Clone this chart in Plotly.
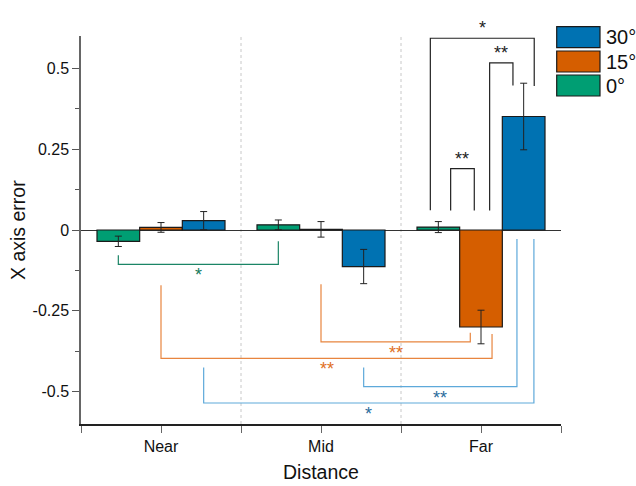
import plotly.graph_objects as go

# ---------------- data ----------------
categories = ["Near", "Mid", "Far"]
cat_pos = [0, 1, 2]
series_names = ["0°", "15°", "30°"]
series_colors = ["#009E73", "#D55E00", "#0072B2"]

vals_0 = [-0.035, 0.016, 0.009]
err_0 = [0.016, 0.015, 0.017]
vals_15 = [0.008, 0.002, -0.300]
err_15 = [0.015, 0.024, 0.052]
vals_30 = [0.029, -0.113, 0.351]
err_30 = [0.028, 0.053, 0.103]

y_tickvals = [0.5, 0.25, 0, -0.25, -0.5]
y_ticktext = ["0.5", "0.25", "0", "-0.25", "-0.5"]

# significance brackets: (group1, series1, shift1, group2, series2, shift2,
#                         level, leg1_end, leg2_end, label, kind)
brackets = [
    (2, 0, 0.077, 2, 1, -0.042, 0.190, 0.060, 0.060, "**", "black"),
    (2, 1, 0.054, 2, 2, -0.067, 0.517, 0.060, 0.447, "**", "black"),
    (2, 0, -0.050, 2, 2, 0.066, 0.593, 0.061, 0.445, "*", "black"),
    (0, 0, 0.0, 1, 0, 0.0, -0.1065, -0.078, -0.035, "*", "green"),
    (0, 1, 0.0, 2, 1, 0.069, -0.397, -0.171, -0.322, "**", "orange"),
    (1, 1, 0.0, 2, 1, -0.067, -0.346, -0.168, -0.318, "**", "orange"),
    (1, 2, 0.0, 2, 2, -0.042, -0.4845, -0.4255, -0.028, "**", "blue"),
    (0, 2, 0.0, 2, 2, 0.064, -0.535, -0.4255, -0.028, "*", "blue"),
]
bracket_line = {"black": "#222222", "green": "#1B8566", "orange": "#E8853F", "blue": "#5EA9DA"}
bracket_text = {"black": "#222222", "green": "#167A5C", "orange": "#E0701E", "blue": "#2C6C9C"}

FONT = "Arial, Liberation Sans, sans-serif"
bar_w = 0.8 / 3


def center(g, s):
    return cat_pos[g] + (s - 1) * bar_w


fig = go.Figure()
for name, vals, errs, col in zip(series_names, [vals_0, vals_15, vals_30],
                                 [err_0, err_15, err_30], series_colors):
    fig.add_trace(go.Bar(
        x=cat_pos, y=vals, name=name,
        marker=dict(color=col, line=dict(color="#1a1a1a", width=1.2)),
        error_y=dict(type="data", array=errs, color="#222222", thickness=1, width=3.5),
        showlegend=False,
    ))

shapes = []
annotations = []

# dotted separators between categories
for xb in [0.5, 1.5]:
    shapes.append(dict(type="line", xref="x", yref="y", x0=xb, x1=xb, y0=-0.6, y1=0.6,
                       line=dict(color="#c8c8c8", width=1, dash="dot"), layer="below"))

for (g1, s1, d1, g2, s2, d2, lvl, e1, e2, lab, kind) in brackets:
    xa = center(g1, s1) + d1
    xb = center(g2, s2) + d2
    path = f"M {xa},{e1} L {xa},{lvl} L {xb},{lvl} L {xb},{e2}"
    shapes.append(dict(type="path", xref="x", yref="y", path=path,
                       line=dict(color=bracket_line[kind], width=1.2)))
    above = lvl > 0
    annotations.append(dict(
        x=(xa + xb) / 2, y=lvl, xref="x", yref="y", text=lab, showarrow=False,
        font=dict(family=FONT, size=18, color=bracket_text[kind]),
        xanchor="center", yanchor="middle",
        yshift=(10 if above else -11),
    ))

# custom legend (30°, 15°, 0° from top)
x0p = (556.7 - 81) / 480
x1p = (600 - 81) / 480
tops = [26.7, 51.0, 75.0]
for i, (name, col) in enumerate(zip(series_names[::-1], series_colors[::-1])):
    t = tops[i]
    b = t + 21
    shapes.append(dict(type="rect", xref="paper", yref="paper",
                       x0=x0p, x1=x1p, y0=(424 - b) / 388, y1=(424 - t) / 388,
                       fillcolor=col, line=dict(color="#1a1a1a", width=1.2)))
    annotations.append(dict(x=(604 - 81) / 480, y=(424 - (t + 10.5)) / 388,
                            xref="paper", yref="paper", text=name, showarrow=False,
                            xanchor="left", yanchor="middle",
                            font=dict(family=FONT, size=20, color="#111111")))

# axis titles
annotations.append(dict(x=0.5, y=(424 - 472) / 388, xref="paper", yref="paper",
                        text="Distance", showarrow=False, xanchor="center", yanchor="middle",
                        font=dict(family=FONT, size=19.5, color="#111111")))
annotations.append(dict(x=(18 - 81) / 480, y=0.5, xref="paper", yref="paper",
                        text="X axis error", showarrow=False, textangle=-90,
                        xanchor="center", yanchor="middle",
                        font=dict(family=FONT, size=19.5, color="#111111")))

fig.update_layout(
    width=636, height=486,
    margin=dict(l=81, r=75, t=36, b=62),
    paper_bgcolor="white", plot_bgcolor="white",
    barmode="group", bargap=0.2, bargroupgap=0,
    shapes=shapes, annotations=annotations,
    font=dict(family=FONT, color="#111111"),
    showlegend=False,
)
fig.update_xaxes(
    range=[-0.5, 2.5], tickmode="array",
    tickvals=[-0.5, 0, 0.5, 1, 1.5, 2, 2.5],
    ticktext=["", categories[0], "", categories[1], "", categories[2], ""],
    ticks="outside", ticklen=7, tickcolor="#666666", tickwidth=1,
    showline=True, linecolor="#222222", linewidth=2,
    showgrid=False, zeroline=False,
    tickfont=dict(family=FONT, size=16, color="#111111"),
)
fig.update_yaxes(
    range=[-0.6, 0.6], tickmode="array", tickvals=y_tickvals, ticktext=y_ticktext,
    ticks="outside", ticklen=7, tickcolor="#555555", tickwidth=1,
    minor=dict(tickvals=[0.375, 0.125, -0.125, -0.375], ticks="outside", ticklen=4,
               tickcolor="#555555", tickwidth=1),
    showline=True, linecolor="#666666", linewidth=1.5,
    showgrid=False, zeroline=True, zerolinecolor="#333333", zerolinewidth=1,
    tickfont=dict(family=FONT, size=16, color="#111111"),
)

fig.write_html("out.html", config={"displayModeBar": False},
               post_script="document.body.style.margin='0';document.body.style.padding='0';")
